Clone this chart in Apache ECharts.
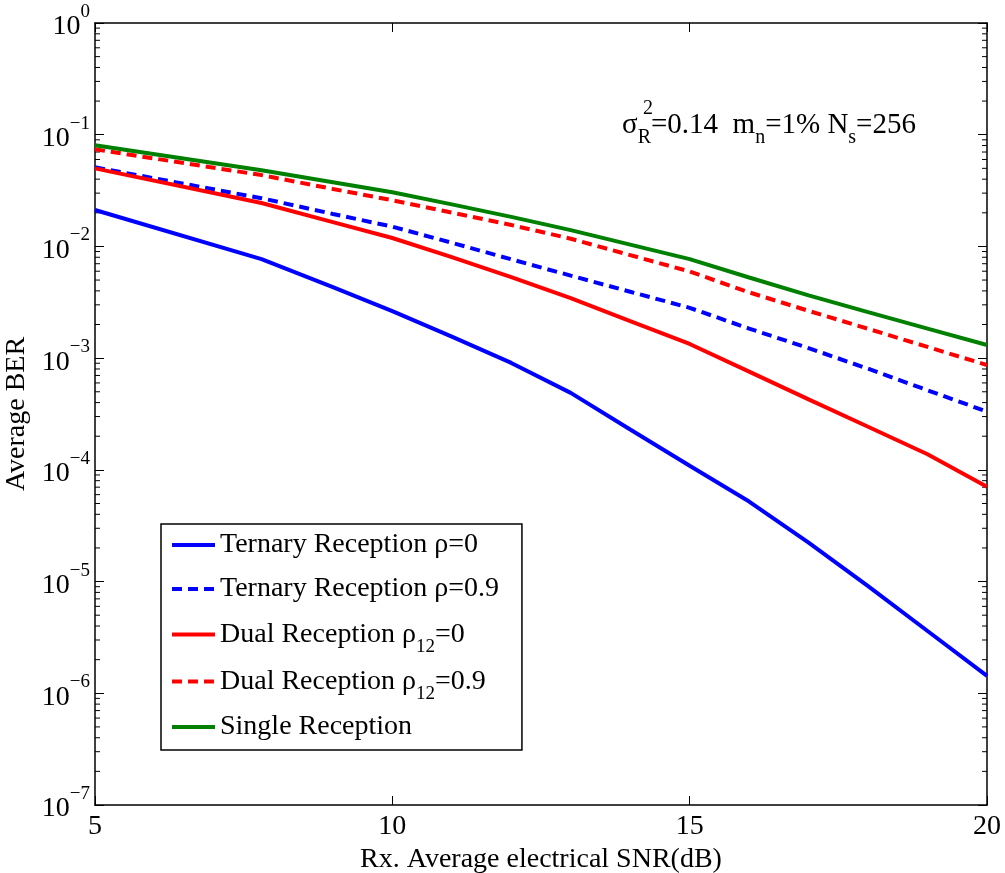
<!DOCTYPE html>
<html>
<head>
<meta charset="utf-8">
<title>Average BER</title>
<script src="https://cdn.jsdelivr.net/npm/echarts@6/dist/echarts.min.js"></script>
<style>
	html, body { margin: 0; padding: 0; background: #fff; }
	#ber_chart { width: 1005px; height: 873px; }
</style>
</head>
<body>
<div id="ber_chart"></div>
<script>
// 横轴 SNR(dB)
var snr_db = [5, 7.8, 9, 10, 11, 12, 13, 14, 15, 16, 17, 18, 19, 20];
// 各接收方式的平均误码率
var ternary_rho0 = [0.0212, 0.0077, 0.00433, 0.00264, 0.00156, 9.06e-4, 4.89e-4, 2.30e-4, 1.09e-4, 5.2e-5, 2.23e-5, 9.1e-6, 3.61e-6, 1.43e-6];
var ternary_rho09 = [0.0511, 0.027, 0.01954, 0.01503, 0.01079, 0.00767, 0.00548, 0.00393, 0.00282, 0.00184, 0.00123, 8.04e-4, 5.16e-4, 3.32e-4];
var dual_rho0 = [0.05, 0.02449, 0.01652, 0.01189, 0.00803, 0.00532, 0.00345, 0.00214, 0.00134, 7.57e-4, 4.28e-4, 2.43e-4, 1.38e-4, 7.06e-5];
var dual_rho09 = [0.074, 0.0435, 0.0327, 0.0259, 0.0201, 0.01556, 0.01172, 0.00836, 0.00596, 0.00388, 0.00265, 0.00183, 0.00126, 8.67e-4];
var single_rx = [0.0804, 0.0481, 0.0376, 0.0306, 0.0238, 0.0184, 0.0140, 0.01037, 0.00769, 0.00527, 0.00365, 0.00258, 0.00184, 0.00131];
// 图例名称
var series_names = ['Ternary Reception ρ=0', 'Ternary Reception ρ=0.9', 'Dual Reception ρ12=0', 'Dual Reception ρ12=0.9', 'Single Reception'];
var legend_rich = {
	'Ternary Reception ρ=0': '{t|Ternary Reception ρ=0}',
	'Ternary Reception ρ=0.9': '{t|Ternary Reception ρ=0.9}',
	'Dual Reception ρ12=0': '{t|Dual Reception ρ}{sub|12}{t|=0}',
	'Dual Reception ρ12=0.9': '{t|Dual Reception ρ}{sub|12}{t|=0.9}',
	'Single Reception': '{t|Single Reception}'
};
// 纵轴范围 (十的幂)
var y_min_exp = -7, y_max_exp = 0;

var FONT = 'Liberation Serif';

function pairs(ys){
	var out = [];
	for(var i = 0; i < snr_db.length; i++){
		out.push([snr_db[i], ys[i]]);
	}
	return out;
}

// 对数轴的小刻度 2..9
function minor_tick_values(){
	var vals = [];
	for(var e = y_min_exp; e < y_max_exp; e++){
		for(var k = 2; k <= 9; k++){
			vals.push([5, k * Math.pow(10, e)]);
		}
	}
	return vals;
}

function line_series(name, ys, color, dashed){
	return {
		name: name,
		type: 'line',
		data: pairs(ys),
		symbol: 'none',
		smooth: false,
		lineStyle: {
			color: color,
			width: 4,
			type: dashed ? [10, 6] : 'solid',
			cap: 'butt'
		},
		itemStyle: { color: color },
		z: 3
	};
}

var chart = echarts.init(document.getElementById('ber_chart'));
var option = {
	animation: false,
	backgroundColor: '#fff',
	grid: {
		left: 95,
		right: 18,
		top: 23,
		bottom: 68,
		outerBoundsMode: 'none'
	},
	legend: {
		orient: 'vertical',
		left: 161,
		top: 524,
		data: series_names,
		itemWidth: 43,
		itemHeight: 14,
		itemGap: 2,
		padding: [0, 23, 2, 9],
		backgroundColor: '#fff',
		borderColor: '#000',
		borderWidth: 1.5,
		borderRadius: 0,
		itemStyle: { opacity: 0 },
		lineStyle: { width: 4 },
		formatter: function(name){
			return legend_rich[name];
		},
		textStyle: {
			fontFamily: FONT,
			fontSize: 28,
			lineHeight: 42,
			color: '#000',
			rich: {
				t: { fontFamily: FONT, fontSize: 28, lineHeight: 42, color: '#000' },
				sub: { fontFamily: FONT, fontSize: 19, lineHeight: 16, padding: [26, 0, 0, 0], color: '#000' }
			}
		}
	},
	xAxis: [{
		type: 'value',
		min: 5,
		max: 20,
		interval: 5,
		name: 'Rx. Average electrical SNR(dB)',
		nameLocation: 'middle',
		nameGap: 39,
		nameTextStyle: { fontFamily: FONT, fontSize: 28, color: '#000' },
		axisLine: { show: true, lineStyle: { color: '#000', width: 1.5 } },
		axisTick: { show: true, inside: true, length: 9, lineStyle: { color: '#000', width: 1 } },
		axisLabel: { fontFamily: FONT, fontSize: 28, color: '#000', margin: 8 },
		splitLine: { show: false }
	}, {
		type: 'value',
		position: 'top',
		min: 5,
		max: 20,
		interval: 5,
		axisLine: { show: true, lineStyle: { color: '#000', width: 1.5 } },
		axisTick: { show: true, inside: true, length: 9, lineStyle: { color: '#000', width: 1 } },
		axisLabel: { show: false },
		splitLine: { show: false }
	}],
	yAxis: [{
		type: 'log',
		logBase: 10,
		min: Math.pow(10, y_min_exp),
		max: Math.pow(10, y_max_exp),
		name: 'Average BER',
		nameLocation: 'middle',
		nameGap: 57,
		nameTextStyle: { fontFamily: FONT, fontSize: 28, color: '#000' },
		axisLine: { show: true, lineStyle: { color: '#000', width: 1.5 } },
		axisTick: { show: true, inside: true, length: 9, lineStyle: { color: '#000', width: 1 } },
		axisLabel: {
			margin: 5,
			formatter: function(value){
				var e = Math.round(Math.log10(value));
				var s = e < 0 ? '\u2212' + (-e) : String(e);
				return '{b|10}{s|' + s + '}';
			},
			rich: {
				b: { fontFamily: FONT, fontSize: 28, lineHeight: 30, padding: [8, 0, 0, 0], color: '#000' },
				s: { fontFamily: FONT, fontSize: 19, lineHeight: 16, padding: [0, 0, 22, 0], color: '#000' }
			}
		},
		splitLine: { show: false }
	}, {
		type: 'log',
		logBase: 10,
		position: 'right',
		min: Math.pow(10, y_min_exp),
		max: Math.pow(10, y_max_exp),
		axisLine: { show: true, lineStyle: { color: '#000', width: 1.5 } },
		axisTick: { show: true, inside: true, length: 9, lineStyle: { color: '#000', width: 1 } },
		axisLabel: { show: false },
		splitLine: { show: false }
	}],
	graphic: [{
		type: 'text',
		left: 622,
		top: 102,
		style: {
			text: '{t|σ}{sub|R}{t|=0.14  m}{sub|n}{t|=1% N}{sub|s}{t|=256}',
			rich: {
				t: { fontFamily: FONT, fontSize: 29, lineHeight: 42, fill: '#000' },
				sub: { fontFamily: FONT, fontSize: 20, lineHeight: 16, padding: [26, 0, 0, 0], fill: '#000' }
			}
		}
	}, {
		type: 'text',
		x: 648,
		y: 109,
		style: { text: '2', fontFamily: FONT, fontSize: 20, fill: '#000', align: 'center', verticalAlign: 'middle' }
	}],
	series: [
		line_series(series_names[0], ternary_rho0, '#0000ff', false),
		line_series(series_names[1], ternary_rho09, '#0000ff', true),
		line_series(series_names[2], dual_rho0, '#ff0000', false),
		line_series(series_names[3], dual_rho09, '#ff0000', true),
		line_series(series_names[4], single_rx, '#008000', false),
		{
			// 左右两侧的小刻度
			type: 'custom',
			silent: true,
			data: minor_tick_values(),
			encode: { x: 0, y: 1 },
			z: 2,
			renderItem: function(params, api){
				var v = api.value(1);
				var pl = api.coord([5, v]);
				var pr = api.coord([20, v]);
				return {
					type: 'group',
					children: [{
						type: 'line',
						shape: { x1: pl[0], y1: pl[1], x2: pl[0] + 5, y2: pl[1] },
						style: { stroke: '#000', lineWidth: 1 }
					}, {
						type: 'line',
						shape: { x1: pr[0], y1: pr[1], x2: pr[0] - 5, y2: pr[1] },
						style: { stroke: '#000', lineWidth: 1 }
					}]
				};
			}
		}
	]
};
chart.setOption(option, true);
</script>
</body>
</html>
